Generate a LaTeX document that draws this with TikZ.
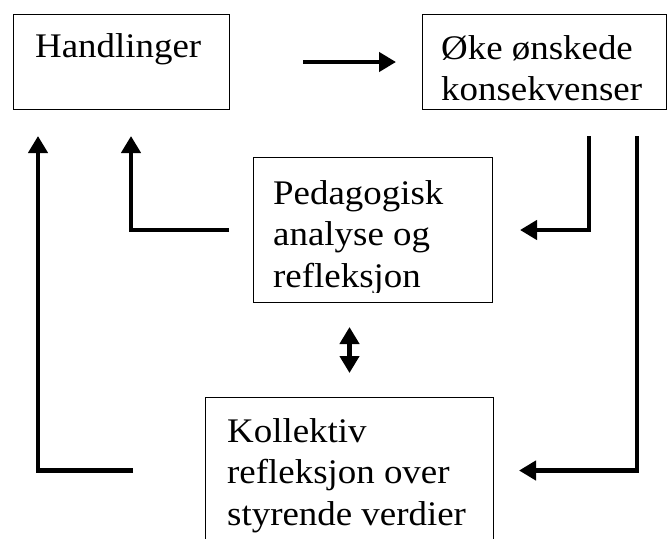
\documentclass[tikz,border=0pt]{standalone}
\usepackage{fontspec}
\setmainfont{Liberation Serif}[FakeStretch=1.07]
\usetikzlibrary{arrows.meta}

\begin{document}
\begin{tikzpicture}[
  x=1pt, y=-1pt,
  BoxStyle/.style = {draw, line width=1pt, inner sep=0pt, anchor=north west},
  TextStyle/.style = {anchor=base west, inner sep=0pt, align=left,
    font=\fontsize{34.5}{41.5}\selectfont}
  ]
  \useasboundingbox (0,0) rectangle (668,538);

  \node[BoxStyle, minimum width=216pt, minimum height=95pt] (handl) at (13,14) {};
  \node[BoxStyle, minimum width=244pt, minimum height=95pt] (oke) at (422,14) {};
  \node[BoxStyle, minimum width=239pt, minimum height=145pt] (ped) at (253,157) {};
  \node[BoxStyle, minimum width=288pt, minimum height=146pt] (koll) at (205,397) {};

  % base anchor sits on the last line
  \node[TextStyle] (handltxt) at ([shift={(22,43)}]handl.north west) {Handlinger};
  \begin{scope}
    \clip (oke.north west) rectangle ([shift={(0,-9.5)}]oke.south east);
    \node[TextStyle] (oketxt) at ([shift={(19,86.5)}]oke.north west)
      {Øke ønskede\\konsekvenser};
  \end{scope}
  \begin{scope}
    \clip (ped.north west) rectangle ([shift={(0,-11)}]ped.south east);
    \node[TextStyle] (pedtxt) at ([shift={(20,130)}]ped.north west)
      {Pedagogisk\\analyse og\\refleksjon};
  \end{scope}
  \node[TextStyle] (kolltxt) at ([shift={(22,128)}]koll.north west)
    {Kollektiv\\refleksjon over\\styrende verdier};

  \tikzset{ArrowStyle/.style = {line width=4.5pt, line join=miter,
    -{Triangle[length=17pt,width=19pt]}}}
  \tikzset{DoubleStyle/.style = {line width=4.5pt, shorten <=24pt, shorten >=24pt,
    {Triangle[length=17pt,width=19pt]}-{Triangle[length=17pt,width=19pt]}}}

  \draw[ArrowStyle] ([xshift=73pt]handl.east) -- ([xshift=-26pt]oke.west);
  \draw[ArrowStyle] ([xshift=-72pt]koll.west) -| ([shift={(25,26)}]handl.south west);
  \draw[ArrowStyle] ([xshift=-24pt]ped.west) -| ([shift={(118,26)}]handl.south west);
  \draw[ArrowStyle] ([shift={(167,26)}]oke.south west) |- ([xshift=27pt]ped.east);
  \draw[ArrowStyle] ([shift={(215,26)}]oke.south west) |- ([xshift=25pt]koll.east);
  \draw[DoubleStyle] (koll.north |- ped.south) -- (koll.north);

\end{tikzpicture}
\end{document}
